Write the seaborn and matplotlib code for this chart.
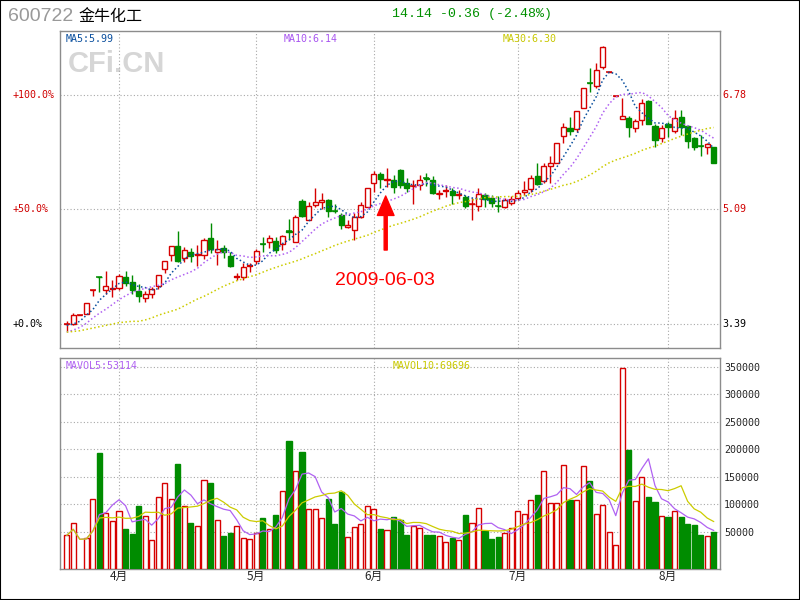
import numpy as np
import pandas as pd
import matplotlib
matplotlib.use('Agg')
import matplotlib.pyplot as plt
import matplotlib.transforms as mtransforms
from matplotlib.patches import Rectangle
import seaborn as sns

sns.set_style('white')
plt.rcParams['font.family'] = ['DejaVu Sans', 'Noto Sans CJK SC']

# ---------------- data ----------------
opens = [3.39, 3.39, 3.52, 3.54, 3.89, 4.09, 3.89, 3.91, 3.93, 4.09,
         4.01, 3.88, 3.77, 3.83, 3.95, 4.21, 4.41, 4.54, 4.37, 4.45,
         4.41, 4.41, 4.67, 4.45, 4.52, 4.40, 4.09, 4.08, 4.25, 4.32,
         4.58, 4.60, 4.62, 4.57, 4.76, 4.61, 5.21, 4.93, 5.15, 5.19,
         5.23, 5.07, 5.00, 4.82, 4.78, 4.98, 5.12, 5.47, 5.61, 5.52,
         5.52, 5.67, 5.47, 5.43, 5.45, 5.55, 5.52, 5.32, 5.36, 5.36,
         5.30, 5.27, 5.16, 5.13, 5.30, 5.26, 5.14, 5.12, 5.18, 5.25,
         5.35, 5.39, 5.58, 5.50, 5.73, 5.78, 6.17, 6.29, 6.27, 6.58,
         6.96, 6.92, 7.20, 7.12, 6.76, 6.42, 6.44, 6.29, 6.41, 6.69,
         6.32, 6.15, 6.35, 6.25, 6.45, 6.32, 6.15, 6.03, 6.01, 6.01]
highs = [3.44, 3.55, 3.52, 3.70, 3.89, 4.09, 4.17, 4.04, 4.13, 4.17,
         4.12, 3.98, 3.88, 3.94, 4.11, 4.32, 4.55, 4.77, 4.53, 4.51,
         4.56, 4.66, 4.88, 4.63, 4.56, 4.46, 4.14, 4.29, 4.29, 4.50,
         4.68, 4.71, 4.68, 4.71, 4.95, 5.00, 5.24, 5.19, 5.40, 5.33,
         5.24, 5.16, 5.03, 4.93, 5.03, 5.20, 5.40, 5.65, 5.64, 5.70,
         5.60, 5.69, 5.55, 5.52, 5.60, 5.62, 5.58, 5.38, 5.45, 5.40,
         5.37, 5.30, 5.25, 5.40, 5.33, 5.30, 5.28, 5.26, 5.29, 5.37,
         5.50, 5.60, 5.78, 5.77, 5.87, 6.07, 6.36, 6.45, 6.55, 6.88,
         7.18, 7.26, 7.51, 7.12, 6.76, 6.73, 6.47, 6.43, 6.72, 6.70,
         6.35, 6.34, 6.38, 6.56, 6.56, 6.34, 6.16, 6.19, 6.07, 6.01]
lows = [3.29, 3.38, 3.52, 3.54, 3.80, 3.87, 3.84, 3.79, 3.89, 3.95,
        3.84, 3.71, 3.72, 3.77, 3.91, 4.14, 4.32, 4.31, 4.31, 4.31,
        4.25, 4.35, 4.44, 4.27, 4.36, 4.23, 4.04, 4.04, 4.16, 4.28,
        4.46, 4.51, 4.44, 4.49, 4.63, 4.61, 4.98, 4.93, 5.12, 5.09,
        4.98, 5.04, 4.80, 4.81, 4.63, 4.96, 5.12, 5.35, 5.40, 5.42,
        5.33, 5.41, 5.35, 5.17, 5.37, 5.43, 5.31, 5.24, 5.27, 5.17,
        5.24, 5.10, 4.93, 5.07, 5.12, 5.12, 5.05, 5.10, 5.15, 5.22,
        5.30, 5.35, 5.45, 5.47, 5.48, 5.77, 6.07, 6.19, 6.23, 6.58,
        6.83, 6.88, 7.16, 7.12, 6.76, 6.42, 6.16, 6.23, 6.33, 6.35,
        6.01, 6.09, 6.16, 6.21, 6.19, 5.99, 5.97, 5.88, 5.90, 5.77]
closes = [3.39, 3.52, 3.52, 3.70, 3.89, 4.08, 3.96, 3.92, 4.10, 4.00,
          3.90, 3.81, 3.84, 3.91, 4.11, 4.32, 4.54, 4.33, 4.48, 4.39,
          4.42, 4.64, 4.50, 4.50, 4.46, 4.25, 4.10, 4.23, 4.26, 4.47,
          4.57, 4.67, 4.49, 4.70, 4.75, 4.97, 4.99, 5.13, 5.19, 5.23,
          5.07, 5.06, 4.86, 4.86, 4.97, 5.15, 5.40, 5.61, 5.53, 5.53,
          5.42, 5.45, 5.41, 5.44, 5.52, 5.54, 5.33, 5.33, 5.37, 5.30,
          5.31, 5.13, 5.17, 5.31, 5.24, 5.18, 5.13, 5.23, 5.24, 5.33,
          5.38, 5.55, 5.46, 5.73, 5.77, 6.07, 6.30, 6.24, 6.54, 6.88,
          6.95, 7.15, 7.49, 7.12, 6.76, 6.47, 6.30, 6.40, 6.66, 6.35,
          6.12, 6.29, 6.30, 6.44, 6.30, 6.10, 6.01, 6.02, 6.05, 5.77]
volumes = [43400, 65300, 0, 39100, 108900, 192500, 83400, 68900, 87100, 54400,
           45800, 96700, 78500, 34300, 112500, 138000, 108900, 173100, 96700, 65800,
           59800, 143400, 138500, 70700, 42200, 47600, 59800, 38000, 36200, 48200,
           74400, 54400, 80400, 123500, 214900, 159800, 194900, 90700, 90700, 74400,
           109500, 64000, 122200, 39800, 58000, 64000, 96700, 90700, 54900, 52500,
           76200, 71300, 44000, 60400, 56200, 44000, 44000, 41600, 30700, 39100,
           34300, 80400, 65300, 92500, 51800, 36700, 40400, 47600, 56200, 87100,
           82200, 107100, 116700, 159800, 101600, 101600, 170700, 107600, 107100, 168900,
           142200, 81600, 98000, 48900, 25300, 347100, 198500, 105300, 148900, 113100,
           104000, 78000, 76700, 87100, 76700, 64000, 62200, 44000, 41600, 49500]

# moving-average values before enough bars are on screen
ma5_head = [3.37, 3.39, 3.43, 3.52]
ma10_head = [3.27, 3.30, 3.34, 3.40, 3.48, 3.55, 3.61, 3.68, 3.75]
ma30_head = [3.27, 3.28, 3.29, 3.31, 3.33, 3.35, 3.37, 3.39, 3.41, 3.42,
             3.43, 3.43, 3.45, 3.48, 3.52, 3.55, 3.58, 3.61, 3.66, 3.71,
             3.76, 3.80, 3.85, 3.90, 3.95, 3.99, 4.03, 4.06, 4.09]

month_idx = [8, 29, 47, 69, 92]
month_labels = ['4月', '5月', '6月', '7月', '8月']
price_ticks = [3.39, 5.085, 6.78]
pct_labels = ['+0.0%', '+50.0%', '+100.0%']
price_labels = ['3.39', '5.09', '6.78']
vol_ticks = [50000, 100000, 150000, 200000, 250000, 300000, 350000]
vol_labels = ['50000', '100000', '150000', '200000', '250000', '300000', '350000']

# ---------------- derived series ----------------
o = np.array(opens); h = np.array(highs); l = np.array(lows); c = np.array(closes)
vol = np.array(volumes, dtype=float)
n = len(c)
idx = np.arange(n)
cs = pd.Series(c)

def ma(win, head):
    s = cs.rolling(win).mean().to_numpy()
    s[:len(head)] = head
    return s

ma5 = ma(5, ma5_head)
ma10 = ma(10, ma10_head)
ma30 = ma(30, ma30_head)
vs = pd.Series(vol)
mavol5 = vs.rolling(5, min_periods=1).mean().to_numpy()
mavol10 = vs.rolling(10, min_periods=1).mean().to_numpy()

RED = '#d60000'
GREEN = '#008c00'
up = c >= o
colors = np.where(up, RED, GREEN)
faces = np.where(up, 'white', GREEN)

# ---------------- figure ----------------
W, H = 800, 600
fig = plt.figure(figsize=(8, 6), dpi=100)
fig.patch.set_facecolor('white')

def rect(left, top, right, bottom):
    return [left / W, 1 - bottom / H, (right - left) / W, (bottom - top) / H]

ax = fig.add_axes(rect(60, 31, 720, 348))
axv = fig.add_axes(rect(60, 358, 720, 569))

XMIN, XMAX = -1.03, 99.95
PMIN, PMAX = 3.035, 7.727
VMIN, VMAX = -17800, 365800

GRID = dict(color='#a8a8a8', linestyle=(0, (1, 2)), linewidth=0.8)

# price panel
ax.set_xlim(XMIN, XMAX)
ax.set_ylim(PMIN, PMAX)
ax.set_axisbelow(True)
ax.set_xticks(month_idx)
ax.set_yticks(price_ticks)
ax.grid(True, **GRID)
ax.tick_params(axis='both', length=0, labelbottom=False, labelleft=False)

ax.vlines(idx, l, h, colors=colors, linewidth=1.0, zorder=3)
ax.bar(idx, np.abs(c - o), bottom=np.minimum(o, c), width=0.78,
       color=faces, edgecolor=colors, linewidth=1.0, zorder=4)
flat = np.abs(c - o) < 0.015
ax.hlines(o[flat], idx[flat] - 0.45, idx[flat] + 0.45, colors=colors[flat],
          linewidth=1.1, zorder=5)

dot = (0, (1, 1.6))
sns.lineplot(x=idx, y=ma5, ax=ax, color='#0a4f9e', linestyle=dot, linewidth=1.1, zorder=6)
sns.lineplot(x=idx, y=ma10, ax=ax, color='#b062f2', linestyle=dot, linewidth=1.1, zorder=6)
sns.lineplot(x=idx, y=ma30, ax=ax, color='#cccc00', linestyle=dot, linewidth=1.1, zorder=6)
ax.set_xlabel(''); ax.set_ylabel('')

blend = mtransforms.blended_transform_factory(ax.transAxes, ax.transData)
pct_colors = ['black', '#d00000', '#d00000']
for p, lab, col in zip(price_ticks, pct_labels, pct_colors):
    ax.text(-47 / 660, p, lab, transform=blend, ha='left', va='center',
            fontsize=7.2, family='DejaVu Sans Mono', color=col, clip_on=False)
for p, lab, col in zip(price_ticks, price_labels, pct_colors):
    ax.text(1 + 2 / 660, p, lab, transform=blend, ha='left', va='center',
            fontsize=7.2, family='DejaVu Sans Mono', color=col, clip_on=False)

ax.text(0.009, 0.975, 'MA5:5.99', transform=ax.transAxes, ha='left', va='center',
        fontsize=7.2, family='DejaVu Sans Mono', color='#0a4f9e')
ax.text(0.339, 0.975, 'MA10:6.14', transform=ax.transAxes, ha='left', va='center',
        fontsize=7.2, family='DejaVu Sans Mono', color='#a855f0')
ax.text(0.670, 0.975, 'MA30:6.30', transform=ax.transAxes, ha='left', va='center',
        fontsize=7.2, family='DejaVu Sans Mono', color='#c8c800')
ax.text(0.012, 0.896, 'CFi.CN', transform=ax.transAxes, ha='left', va='center',
        fontsize=21, family='Liberation Sans', weight='bold', color='#d6d6d6', zorder=0)

# annotation arrow and date
ax.annotate('', xy=(48.8, 5.285), xytext=(48.8, 4.485),
            arrowprops=dict(facecolor='#ff0000', edgecolor='#ff0000', width=2.2,
                            headwidth=12, headlength=14, shrink=0), zorder=7)
ax.text(48.7, 4.041, '2009-06-03', ha='center', va='center', fontsize=14,
        family='Liberation Sans', color='#ff0000', zorder=7)

# volume panel
axv.set_xlim(XMIN, XMAX)
axv.set_ylim(VMIN, VMAX)
axv.set_axisbelow(True)
axv.set_xticks(month_idx)
axv.set_xticklabels(month_labels, family=['Noto Sans CJK SC'], fontsize=8.5)
axv.yaxis.tick_right()
axv.set_yticks(vol_ticks)
axv.set_yticklabels(vol_labels, family='DejaVu Sans Mono', fontsize=7.2)
axv.grid(True, **GRID)
axv.tick_params(axis='x', length=0, pad=1.0)
axv.tick_params(axis='y', length=0, pad=3)

m = vol > 0
axv.bar(idx[m], vol[m] - VMIN, bottom=VMIN, width=0.78, color=faces[m],
        edgecolor=colors[m], linewidth=1.0, zorder=3)
sns.lineplot(x=idx, y=mavol5, ax=axv, color='#b062f2', linewidth=0.9, zorder=4)
sns.lineplot(x=idx, y=mavol10, ax=axv, color='#cccc00', linewidth=0.9, zorder=4)
axv.set_xlabel(''); axv.set_ylabel('')

axv.text(0.009, 0.9635, 'MAVOL5:53114', transform=axv.transAxes, ha='left', va='center',
         fontsize=7.2, family='DejaVu Sans Mono', color='#b062f2')
axv.text(0.504, 0.9635, 'MAVOL10:69696', transform=axv.transAxes, ha='left', va='center',
         fontsize=7.2, family='DejaVu Sans Mono', color='#c8c800')

for a in (ax, axv):
    for s in a.spines.values():
        s.set_color('#8c8c8c')
        s.set_linewidth(1.0)
        s.set_visible(True)

# header
fig.text(8 / W, 1 - 16.5 / H, '600722', color='#999999', fontsize=14,
         family='Liberation Sans', ha='left', va='center')
fig.text(78 / W, 1 - 16.5 / H, '金牛化工', color='black', fontsize=11.5,
         family=['Noto Sans CJK SC'], ha='left', va='center')
fig.text(471.5 / W, 1 - 14.5 / H, '14.14 -0.36 (-2.48%)', color='#009000', fontsize=9.5,
         family='Liberation Mono', ha='center', va='center')

fig.add_artist(Rectangle((0, 0), 1, 1, transform=fig.transFigure, fill=False,
                         edgecolor='black', linewidth=1.5))

fig.savefig('out.png', dpi=100)
